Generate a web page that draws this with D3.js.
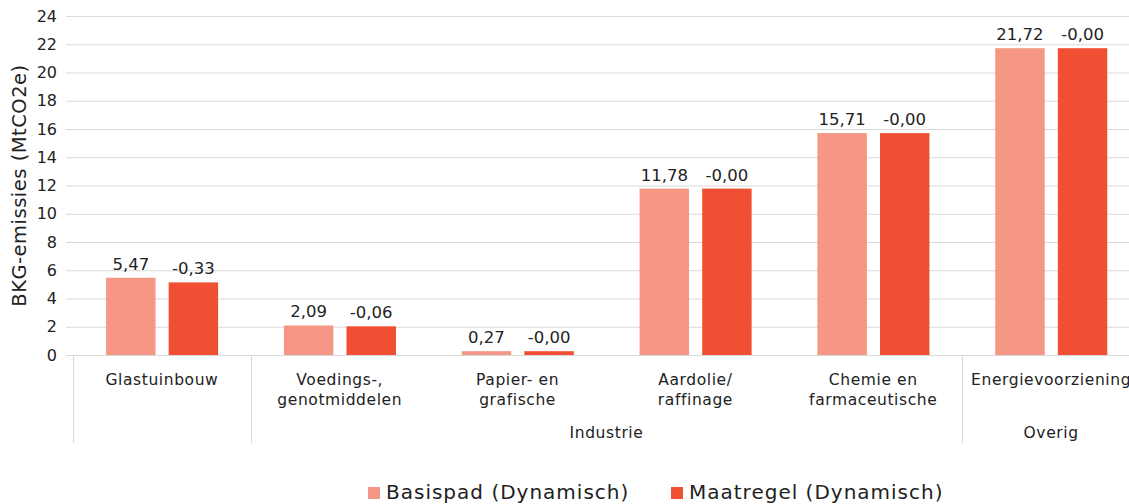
<!DOCTYPE html>
<html><head><meta charset="utf-8">
<script src="https://cdn.jsdelivr.net/npm/d3@7"></script>
<style>body{margin:0;background:#fff}svg{display:block}text{font-family:"DejaVu Sans",sans-serif;fill:#222}</style>
</head><body><svg id="c" width="1129" height="504"></svg>
<script>
const categories = [["Glastuinbouw"],["Voedings-,","genotmiddelen"],["Papier- en","grafische"],["Aardolie/","raffinage"],["Chemie en","farmaceutische"],["Energievoorziening"]];
const groups = [{name:"Overig0",label:"",from:0,to:0},{name:"Industrie",label:"Industrie",from:1,to:4},{name:"Overig",label:"Overig",from:5,to:5}];
const seriesNames = ["Basispad (Dynamisch)","Maatregel (Dynamisch)"];
const basispad = [5.47,2.09,0.27,11.78,15.71,21.72];
const maatregel = [5.14,2.03,0.27,11.78,15.71,21.72];
const basisLabels = ["5,47","2,09","0,27","11,78","15,71","21,72"];
const maatLabels = ["-0,33","-0,06","-0,00","-0,00","-0,00","-0,00"];
const yTicks = [0,2,4,6,8,10,12,14,16,18,20,22,24];
const colors = ["#f69684","#f04f33"];

const svg = d3.select("#c");
const x0 = 73, x1 = 1140, yTop = 16, yBot = 355;
const y = d3.scaleLinear().domain([0,24]).range([yBot,yTop]);
const xc = d3.scaleBand().domain(d3.range(categories.length)).range([x0,x1]).padding(0);
const bw = xc.bandwidth();
const xs = d3.scaleBand().domain([0,1]).range([bw*0.186,bw*0.816]).paddingInner(0.21);

// gridlines
const ax = d3.axisLeft(y).tickValues(yTicks).tickSize(-(1129-66)).tickPadding(8).tickFormat(d3.format("d"));
const g = svg.append("g").attr("transform",`translate(66,0)`).call(ax);
g.select(".domain").remove();
g.selectAll(".tick line").attr("stroke","#d9d9d9").attr("stroke-width",1);
g.selectAll(".tick text").attr("font-size",16).attr("fill","#222").attr("x",-9).style("font-family","'DejaVu Sans'");

svg.append("text").attr("transform",`translate(26,${(yTop+yBot)/2}) rotate(-90)`).attr("text-anchor","middle").attr("font-size",19.5).attr("letter-spacing",0.5).text("BKG-emissies (MtCO2e)");

// bars
const data = [basispad, maatregel];
const labels = [basisLabels, maatLabels];
data.forEach((vals,s)=>{
  svg.append("g").selectAll("rect").data(vals).join("rect")
    .attr("x",(d,i)=>xc(i)+xs(s)).attr("width",xs.bandwidth())
    .attr("y",d=>y(d)).attr("height",d=>y(0)-y(d)).attr("fill",colors[s]);
  svg.append("g").selectAll("text").data(vals).join("text")
    .attr("x",(d,i)=>xc(i)+xs(s)+xs.bandwidth()/2).attr("y",d=>y(d)-8)
    .attr("text-anchor","middle").attr("font-size",16.5).text((d,i)=>labels[s][i]);
});

// axis line
svg.append("line").attr("x1",66).attr("x2",1129).attr("y1",yBot+0.5).attr("y2",yBot+0.5).attr("stroke","#d9d9d9");
// category labels
categories.forEach((lines,i)=>{
  const t = svg.append("text").attr("x",xc(i)+bw/2).attr("y",385).attr("text-anchor","middle").attr("font-size",15.5).attr("letter-spacing",0.6);
  lines.forEach((l,k)=>t.append("tspan").attr("x",xc(i)+bw/2).attr("dy",k?20:0).text(l));
});
// group separators
const seps = [0,1,5];
seps.forEach(i=>svg.append("line").attr("x1",Math.round(xc(i))+0.5).attr("x2",Math.round(xc(i))+0.5).attr("y1",yBot).attr("y2",443).attr("stroke","#d9d9d9"));
groups.filter(gr=>gr.label).forEach(gr=>{
  svg.append("text").attr("x",(xc(gr.from)+xc(gr.to)+bw)/2).attr("y",438).attr("text-anchor","middle").attr("font-size",15.5).attr("letter-spacing",0.6).text(gr.label);
});

// legend
const lx = [368,671];
seriesNames.forEach((n,s)=>{
  svg.append("rect").attr("x",lx[s]).attr("y",487).attr("width",12).attr("height",12).attr("fill",colors[s]);
  svg.append("text").attr("x",lx[s]+18).attr("y",499).attr("font-size",20).attr("letter-spacing",1).text(n);
});
</script></body></html>
